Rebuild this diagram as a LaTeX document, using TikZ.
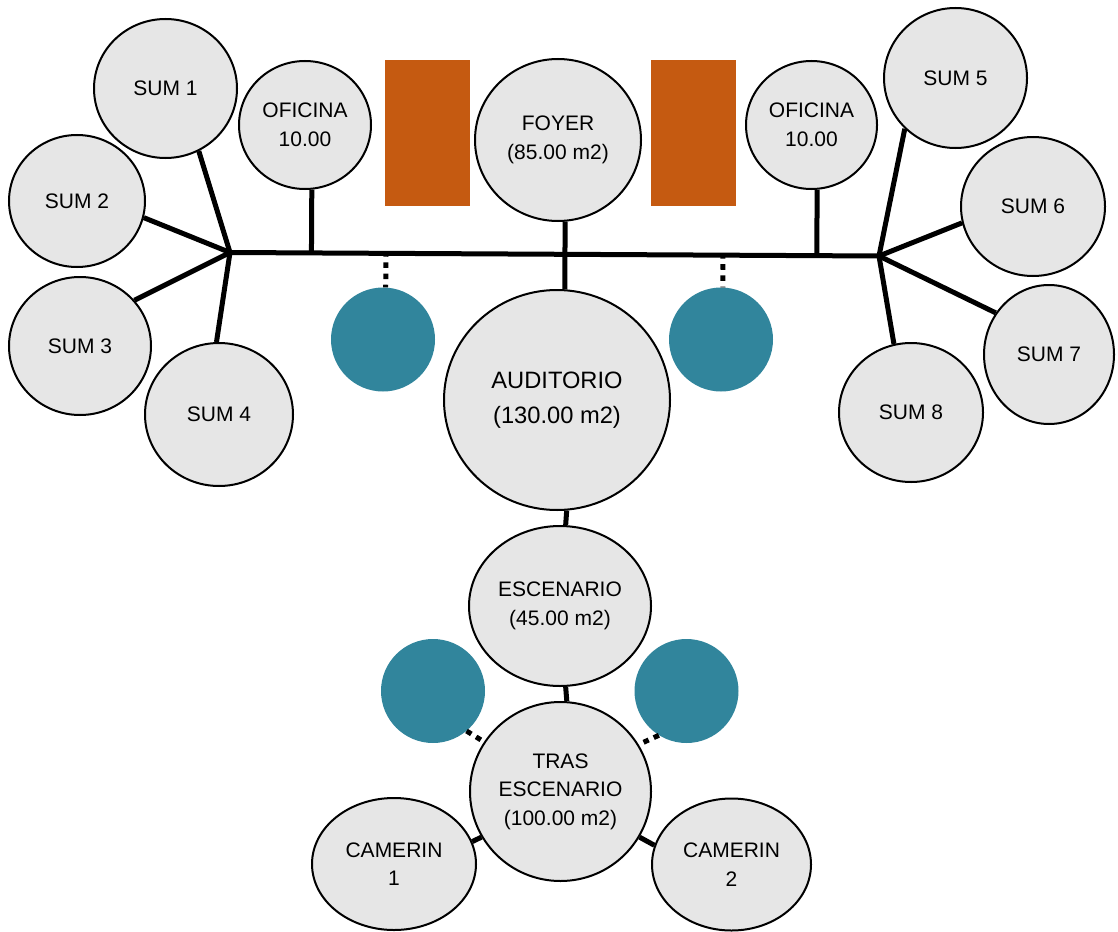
\documentclass[tikz,border=0pt]{standalone}
\usepackage{fontspec}
\setmainfont{Liberation Sans}
\usetikzlibrary{shapes.geometric,calc}
\definecolor{roomgray}{HTML}{E6E6E6}
\definecolor{tealc}{HTML}{31859C}
\definecolor{orangec}{HTML}{C55A11}
\begin{document}
\begin{tikzpicture}[x=1pt,y=-1pt,
  room/.style={ellipse,draw=black,line width=2pt,fill=roomgray,inner sep=0pt,align=center,
    font=\fontsize{21}{28.5}\selectfont},
  bigroom/.style={room,font=\fontsize{23.7}{35}\selectfont},
  tealdot/.style={circle,fill=tealc,draw=none,minimum size=104pt,inner sep=0pt},
  block/.style={rectangle,fill=orangec,draw=none,inner sep=0pt,minimum width=85pt,minimum height=146pt},
  conn/.style={line width=5pt},
  dotconn/.style={line width=5pt,dash pattern=on 5.6pt off 5.6pt}]
\useasboundingbox (0,0) rectangle (1118,931);

% rooms
\node[room,minimum width=143pt,minimum height=139pt] (sum1) at (165.5,88.5) {SUM 1};
\node[room,minimum width=136pt,minimum height=132pt] (sum2) at (77,201) {SUM 2};
\node[room,minimum width=142pt,minimum height=138pt] (sum3) at (80,346) {SUM 3};
\node[room,minimum width=148pt,minimum height=143pt] (sum4) at (219,414.5) {SUM 4};
\node[room,minimum width=132pt,minimum height=128pt] (ofL) at (305,125) {OFICINA\\10.00};
\node[room,minimum width=166pt,minimum height=162pt] (foyer) at (558,140) {FOYER\\(85.00 m2)};
\node[room,minimum width=131pt,minimum height=128pt] (ofR) at (811.5,125) {OFICINA\\10.00};
\node[room,minimum width=143pt,minimum height=140pt] (sum5) at (955.5,78) {SUM 5};
\node[room,minimum width=144pt,minimum height=139pt] (sum6) at (1033,206.5) {SUM 6};
\node[room,minimum width=130pt,minimum height=139pt] (sum7) at (1049,354.5) {SUM 7};
\node[room,minimum width=144pt,minimum height=139pt] (sum8) at (911,412.5) {SUM 8};
\node[bigroom,minimum width=226pt,minimum height=220pt] (aud) at (557,400) {AUDITORIO\\(130.00 m2)};
\node[room,minimum width=182pt,minimum height=160pt] (esc) at (560,606) {ESCENARIO\\(45.00 m2)};
\node[room,minimum width=181pt,minimum height=179pt] (tras) at (560.5,791.5) {TRAS\\ESCENARIO\\(100.00 m2)};
\node[room,minimum width=164pt,minimum height=132pt] (cam1) at (394,864) {CAMERIN\\1};
\node[room,minimum width=159pt,minimum height=132pt] (cam2) at (731.5,864.5) {CAMERIN\\2};

% orange blocks
\node[block] (blkL) at (427.5,133) {};
\node[block] (blkR) at (693.5,133) {};

% teal circles
\node[tealdot] (tealL) at (383,339.5) {};
\node[tealdot] (tealR) at (721,339.5) {};
\node[tealdot] (tealBL) at (433,691) {};
\node[tealdot] (tealBR) at (686.5,691) {};

% hubs
\coordinate (hubL) at (230,252.5);
\coordinate (hubR) at (879,256);

% main corridor
\draw[conn] (hubL) -- (hubR);

% left spokes
\draw[conn] (hubL) -- (sum1.-62);
\draw[conn] (hubL) -- (sum2.-14);
\draw[conn] (hubL) -- (sum3.40);
\draw[conn] (hubL) -- (sum4.92);
% right spokes
\draw[conn] (hubR) -- (sum5.-135);
\draw[conn] (hubR) -- (sum6.-167);
\draw[conn] (hubR) -- (sum7.142);
\draw[conn] (hubR) -- (sum8.104.5);

% offices
\draw[conn] (ofL.-84) -- ($(hubL)!(ofL.-84)!(hubR)$);
\draw[conn] (ofR.-85) -- ($(hubL)!(ofR.-85)!(hubR)$);

% foyer - auditorio
\draw[conn] (foyer.-85) -- (aud.86);
\draw[conn] (aud.-85) -- (esc.86);
\draw[conn] (esc.-86) -- (tras.86);
\draw[conn] (tras.-150) -- (cam1.16);
\draw[conn] (tras.-30) -- (cam2.166);

% dotted links
\draw[dotconn,dash phase=2.2pt] ($(hubL)!(tealL.87)!(hubR)$) -- (tealL.87);
\draw[dotconn,dash phase=2.2pt] ($(hubL)!(tealR.88)!(hubR)$) -- (tealR.88);
\draw[dotconn] (tealBL.-50) -- (tras.147);
\draw[dotconn] (tealBR.-122) -- (tras.31);
\end{tikzpicture}
\end{document}
